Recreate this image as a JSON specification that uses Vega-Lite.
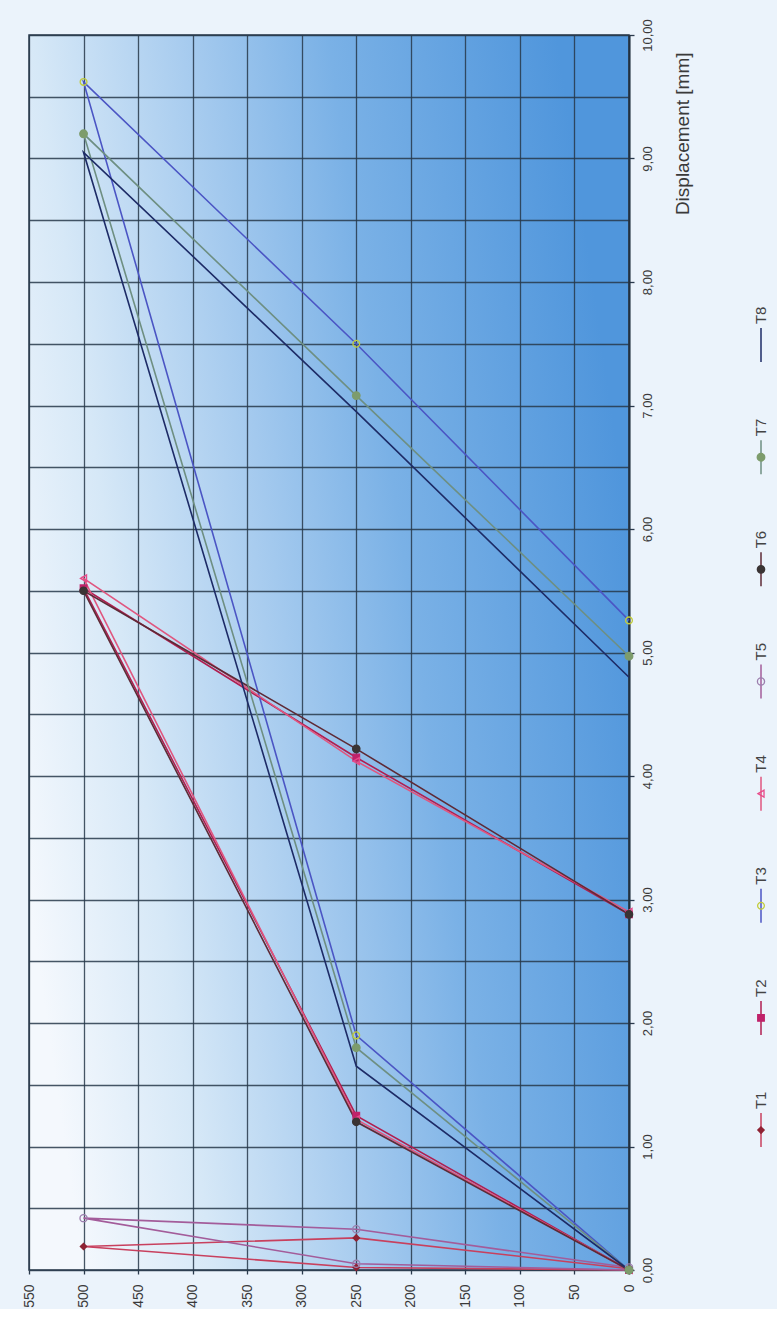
{
  "$schema": "https://vega.github.io/schema/vega-lite/v6.json",
  "background": "#ebf3fb",
  "padding": {"left": 21, "top": 17, "right": 0, "bottom": 0},
  "bounds": "flush",
  "spacing": 112,
  "config": {
    "font": "Liberation Sans",
    "axis": {"labelFont": "Liberation Sans", "titleFont": "Liberation Sans"}
  },
  "datasets": {
    "tests": [
      {"series": "T1", "step": 1, "load": 0, "disp": 0.0},
      {"series": "T1", "step": 2, "load": 250, "disp": 0.02},
      {"series": "T1", "step": 3, "load": 500, "disp": 0.19},
      {"series": "T1", "step": 4, "load": 250, "disp": 0.26},
      {"series": "T1", "step": 5, "load": 0, "disp": 0.01},
      {"series": "T2", "step": 1, "load": 0, "disp": 0.0},
      {"series": "T2", "step": 2, "load": 250, "disp": 1.25},
      {"series": "T2", "step": 3, "load": 500, "disp": 5.52},
      {"series": "T2", "step": 4, "load": 250, "disp": 4.15},
      {"series": "T2", "step": 5, "load": 0, "disp": 2.88},
      {"series": "T3", "step": 1, "load": 0, "disp": 0.0},
      {"series": "T3", "step": 2, "load": 250, "disp": 1.9},
      {"series": "T3", "step": 3, "load": 500, "disp": 9.62},
      {"series": "T3", "step": 4, "load": 250, "disp": 7.5},
      {"series": "T3", "step": 5, "load": 0, "disp": 5.26},
      {"series": "T4", "step": 1, "load": 0, "disp": 0.0},
      {"series": "T4", "step": 2, "load": 250, "disp": 1.22},
      {"series": "T4", "step": 3, "load": 500, "disp": 5.6},
      {"series": "T4", "step": 4, "load": 250, "disp": 4.12},
      {"series": "T4", "step": 5, "load": 0, "disp": 2.9},
      {"series": "T5", "step": 1, "load": 0, "disp": 0.0},
      {"series": "T5", "step": 2, "load": 250, "disp": 0.05},
      {"series": "T5", "step": 3, "load": 500, "disp": 0.42},
      {"series": "T5", "step": 4, "load": 250, "disp": 0.33},
      {"series": "T5", "step": 5, "load": 0, "disp": 0.02},
      {"series": "T6", "step": 1, "load": 0, "disp": 0.0},
      {"series": "T6", "step": 2, "load": 250, "disp": 1.2},
      {"series": "T6", "step": 3, "load": 500, "disp": 5.5},
      {"series": "T6", "step": 4, "load": 250, "disp": 4.22},
      {"series": "T6", "step": 5, "load": 0, "disp": 2.88},
      {"series": "T7", "step": 1, "load": 0, "disp": 0.0},
      {"series": "T7", "step": 2, "load": 250, "disp": 1.8},
      {"series": "T7", "step": 3, "load": 500, "disp": 9.2},
      {"series": "T7", "step": 4, "load": 250, "disp": 7.08},
      {"series": "T7", "step": 5, "load": 0, "disp": 4.97},
      {"series": "T8", "step": 1, "load": 0, "disp": 0.0},
      {"series": "T8", "step": 2, "load": 250, "disp": 1.65},
      {"series": "T8", "step": 3, "load": 500, "disp": 9.05},
      {"series": "T8", "step": 4, "load": 250, "disp": 6.95},
      {"series": "T8", "step": 5, "load": 0, "disp": 4.8}
    ],
    "legend": [
      {"series": "T1", "pos": 1},
      {"series": "T2", "pos": 2},
      {"series": "T3", "pos": 3},
      {"series": "T4", "pos": 4},
      {"series": "T5", "pos": 5},
      {"series": "T6", "pos": 6},
      {"series": "T7", "pos": 7},
      {"series": "T8", "pos": 8}
    ]
  },
  "hconcat": [
    {
      "width": 600,
      "height": 1235,
      "view": {
        "fill": {
          "gradient": "linear",
          "x1": 0, "y1": 0.7, "x2": 1, "y2": 0.4,
          "stops": [
            {"offset": 0, "color": "#f4f8fd"},
            {"offset": 0.2, "color": "#d6e8f7"},
            {"offset": 0.45, "color": "#a3c9ee"},
            {"offset": 0.65, "color": "#7ab1e6"},
            {"offset": 1, "color": "#5096dc"}
          ]
        },
        "stroke": "#2a3a4c",
        "strokeWidth": 1.5
      },
      "resolve": {"axis": {"y": "independent"}},
      "layer": [
        {
          "data": {"values": [{}]},
          "mark": {"type": "point", "opacity": 0},
          "encoding": {
            "x": {
              "datum": 0, "type": "quantitative",
              "scale": {"domain": [0, 550], "reverse": true, "nice": false, "zero": false},
              "axis": {
                "orient": "bottom", "title": null,
                "values": [0, 50, 100, 150, 200, 250, 300, 350, 400, 450, 500, 550],
                "labelAngle": 270, "labelAlign": "right", "labelBaseline": "middle",
                "labelFontSize": 14, "labelColor": "#3a3a3a", "labelPadding": 10,
                "tickSize": 4, "tickColor": "#2a3a4c", "tickWidth": 1.3,
                "grid": true, "gridColor": "#27384a", "gridWidth": 1.3, "gridOpacity": 0.85,
                "domain": false
              }
            },
            "y": {
              "datum": 0, "type": "quantitative",
              "scale": {"domain": [0, 10], "nice": false, "zero": false},
              "axis": {
                "orient": "left", "title": null,
                "values": [0, 0.5, 1, 1.5, 2, 2.5, 3, 3.5, 4, 4.5, 5, 5.5, 6, 6.5, 7, 7.5, 8, 8.5, 9, 9.5, 10],
                "labels": false, "ticks": false, "domain": false,
                "grid": true, "gridColor": "#27384a", "gridWidth": 1.3, "gridOpacity": 0.85
              }
            }
          }
        },
        {
          "data": {"name": "tests"},
          "mark": {"type": "line", "strokeWidth": 1.6},
          "encoding": {
            "x": {"field": "load", "type": "quantitative"},
            "y": {
              "field": "disp", "type": "quantitative",
              "axis": {
                "orient": "right",
                "values": [0, 1, 2, 3, 4, 5, 6, 7, 8, 9, 10],
                "labelExpr": "replace(format(datum.value, '.2f'), '.', ',')",
                "labelAngle": 270, "labelAlign": "center", "labelBaseline": "top",
                "labelFontSize": 13, "labelColor": "#3a3a3a", "labelPadding": 7,
                "tickSize": 5, "tickColor": "#2a3a4c", "tickWidth": 1.3,
                "grid": false,
                "domain": true, "domainColor": "#22303f", "domainWidth": 2,
                "title": "Displacement [mm]",
                "titleAngle": 270, "titleAlign": "right", "titleBaseline": "top",
                "titleX": 44, "titleY": 17,
                "titleFontSize": 19, "titleFontWeight": "normal", "titleColor": "#3a3a3a"
              }
            },
            "color": {
              "field": "series", "type": "nominal", "legend": null,
              "scale": {
                "domain": ["T1", "T2", "T3", "T4", "T5", "T6", "T7", "T8"],
                "range": ["#c8405e", "#b01e50", "#4b55c4", "#e0567f", "#a35c9a", "#5e2a36", "#6e8f82", "#1d2b66"]
              }
            },
            "order": {"field": "step", "type": "quantitative"}
          }
        },
        {
          "data": {"name": "tests"},
          "transform": [{"filter": "datum.series != 'T8'"}],
          "mark": {"type": "point", "opacity": 1, "strokeWidth": 1.3},
          "encoding": {
            "x": {"field": "load", "type": "quantitative"},
            "y": {"field": "disp", "type": "quantitative", "axis": null},
            "shape": {
              "field": "series", "type": "nominal", "legend": null,
              "scale": {
                "domain": ["T1", "T2", "T3", "T4", "T5", "T6", "T7", "T8"],
                "range": ["diamond", "square", "circle", "triangle-left", "circle", "circle", "circle", "circle"]
              }
            },
            "stroke": {
              "field": "series", "type": "nominal", "legend": null,
              "scale": {
                "domain": ["T1", "T2", "T3", "T4", "T5", "T6", "T7", "T8"],
                "range": ["#8e2233", "#c0226a", "#c2cc3c", "#e84a8a", "#9c7fae", "#3a3434", "#7d9c6c", "#1d2b66"]
              }
            },
            "fill": {
              "field": "series", "type": "nominal", "legend": null,
              "scale": {
                "domain": ["T1", "T2", "T3", "T4", "T5", "T6", "T7", "T8"],
                "range": ["#8e2233", "#c0226a", "transparent", "transparent", "transparent", "#3a3434", "#7d9c6c", "transparent"]
              }
            },
            "size": {
              "field": "series", "type": "ordinal", "legend": null,
              "scale": {
                "domain": ["T1", "T2", "T3", "T4", "T5", "T6", "T7", "T8"],
                "range": [40, 60, 40, 40, 55, 70, 25, 0]
              }
            }
          }
        }
      ]
    },
    {
      "width": 40,
      "height": 1235,
      "view": {"stroke": null},
      "data": {"name": "legend"},
      "encoding": {
        "x": {"datum": 0.5, "type": "quantitative", "scale": {"domain": [0, 1]}, "axis": null},
        "y": {"field": "pos", "type": "quantitative", "scale": {"domain": [-0.248, 10.765], "nice": false, "zero": false}, "axis": null}
      },
      "layer": [
        {
          "mark": {"type": "point", "shape": "M0,-1L0,1", "size": 1156, "strokeWidth": 1.5, "opacity": 1},
          "encoding": {
            "color": {
              "field": "series", "type": "nominal", "legend": null,
              "scale": {
                "domain": ["T1", "T2", "T3", "T4", "T5", "T6", "T7", "T8"],
                "range": ["#c8405e", "#b01e50", "#4b55c4", "#e0567f", "#a35c9a", "#5e2a36", "#6e8f82", "#1d2b66"]
              }
            }
          }
        },
        {
          "transform": [{"filter": "datum.series != 'T8'"}],
          "mark": {"type": "point", "opacity": 1, "strokeWidth": 1.3},
          "encoding": {
            "shape": {
              "field": "series", "type": "nominal", "legend": null,
              "scale": {
                "domain": ["T1", "T2", "T3", "T4", "T5", "T6", "T7", "T8"],
                "range": ["diamond", "square", "circle", "triangle-left", "circle", "circle", "circle", "circle"]
              }
            },
            "stroke": {
              "field": "series", "type": "nominal", "legend": null,
              "scale": {
                "domain": ["T1", "T2", "T3", "T4", "T5", "T6", "T7", "T8"],
                "range": ["#8e2233", "#c0226a", "#c2cc3c", "#e84a8a", "#9c7fae", "#3a3434", "#7d9c6c", "#1d2b66"]
              }
            },
            "fill": {
              "field": "series", "type": "nominal", "legend": null,
              "scale": {
                "domain": ["T1", "T2", "T3", "T4", "T5", "T6", "T7", "T8"],
                "range": ["#8e2233", "#c0226a", "transparent", "transparent", "transparent", "#3a3434", "#7d9c6c", "transparent"]
              }
            },
            "size": {
              "field": "series", "type": "ordinal", "legend": null,
              "scale": {
                "domain": ["T1", "T2", "T3", "T4", "T5", "T6", "T7", "T8"],
                "range": [40, 60, 40, 40, 55, 70, 25, 0]
              }
            }
          }
        },
        {
          "mark": {"type": "text", "angle": 270, "align": "left", "baseline": "middle", "fontSize": 15, "color": "#444444"},
          "encoding": {
            "text": {"field": "series", "type": "nominal"},
            "yOffset": {"value": -21}
          }
        }
      ]
    }
  ]
}
